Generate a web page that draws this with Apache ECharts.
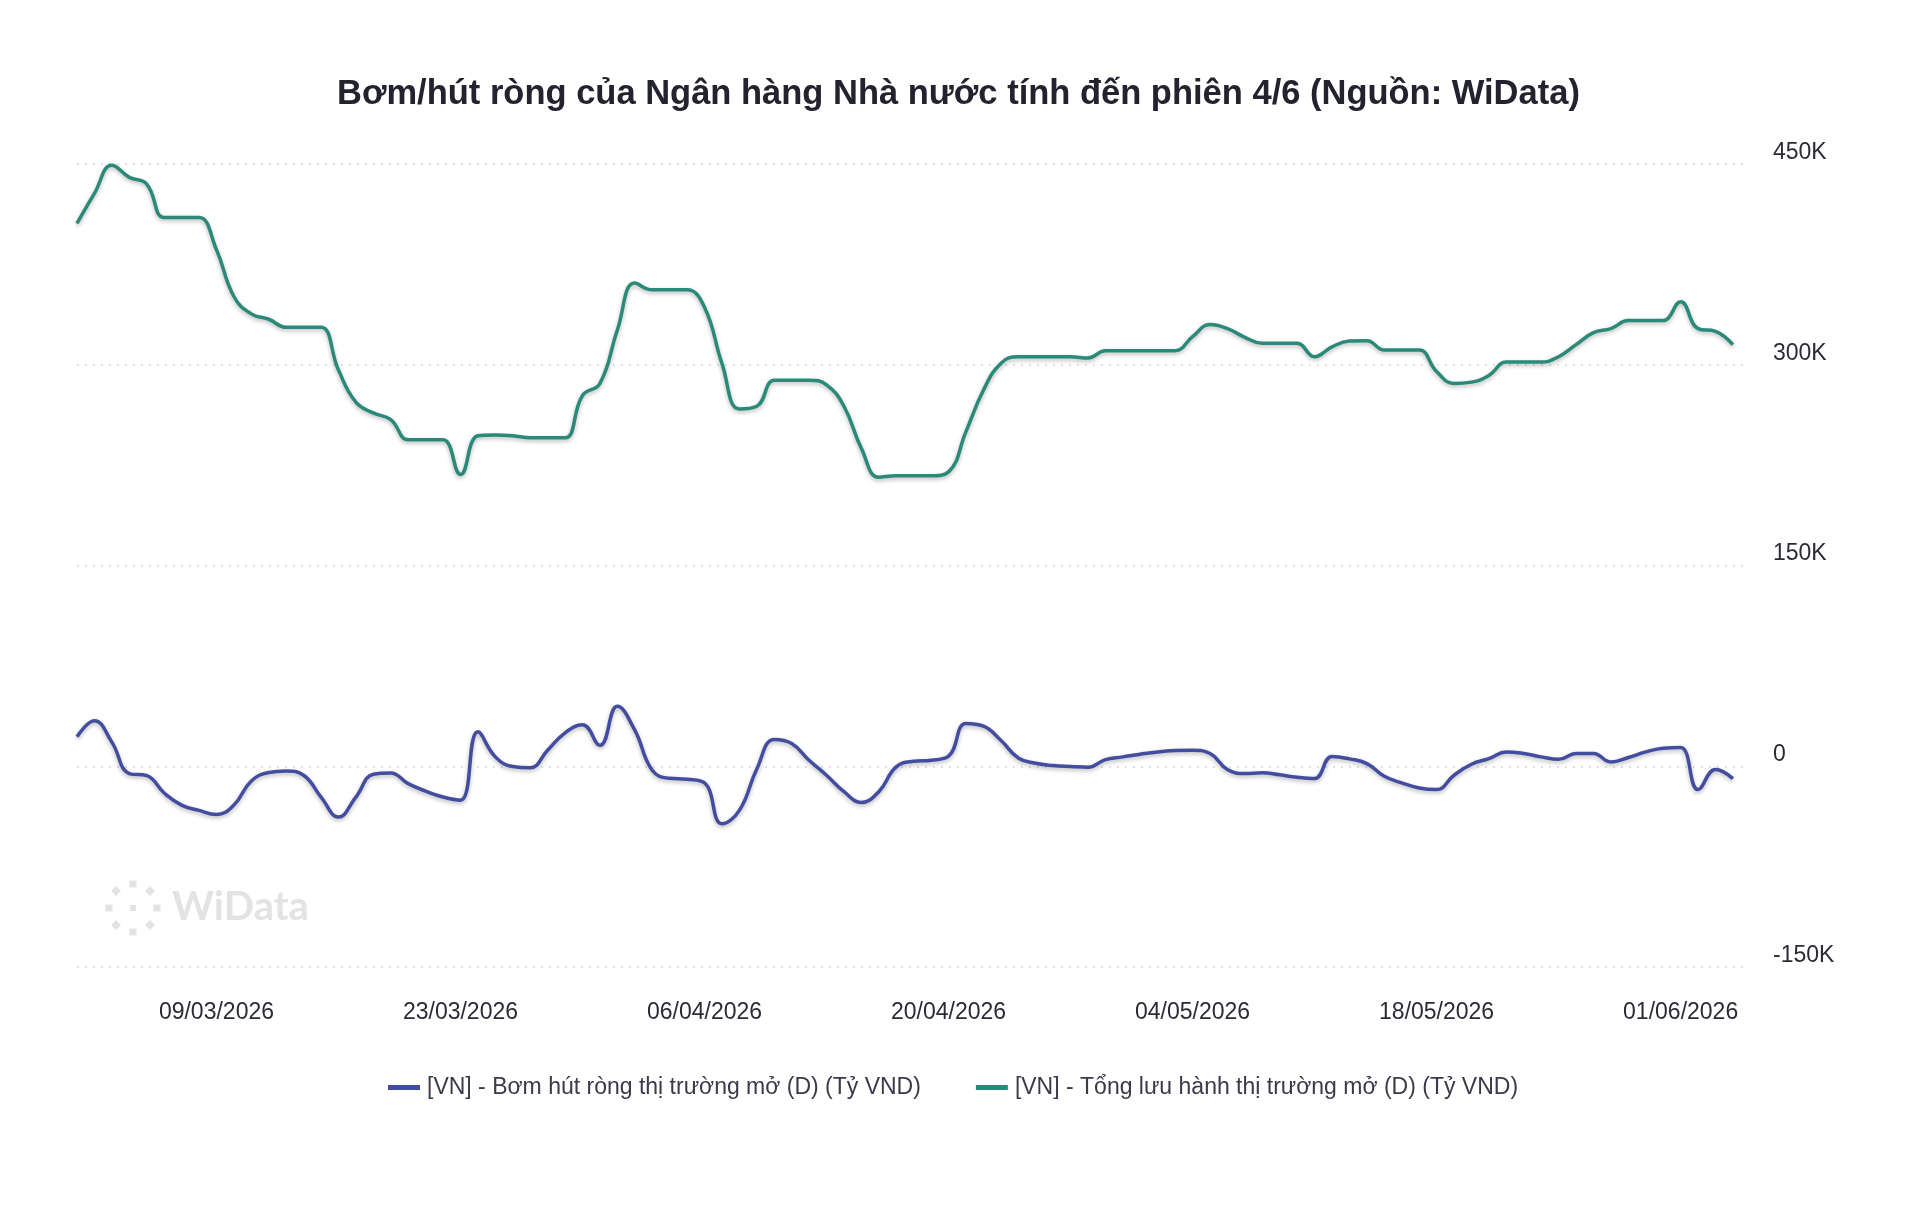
<!DOCTYPE html>
<html>
<head>
<meta charset="utf-8">
<script src="https://cdn.jsdelivr.net/npm/echarts@6/dist/echarts.min.js"></script>
<style>
  html, body { margin: 0; padding: 0; background: #ffffff; }
  #chart { width: 1920px; height: 1227px; }
</style>
</head>
<body>
<div id="chart"></div>
<script>
// ---- Data (Tỷ VND) ----
const dates = [
  '2026-03-01','2026-03-02','2026-03-03','2026-03-04','2026-03-05','2026-03-06','2026-03-07','2026-03-08',
  '2026-03-09','2026-03-10','2026-03-11','2026-03-12','2026-03-13','2026-03-14','2026-03-15',
  '2026-03-16','2026-03-17','2026-03-18','2026-03-19','2026-03-20','2026-03-21','2026-03-22',
  '2026-03-23','2026-03-24','2026-03-25','2026-03-26','2026-03-27','2026-03-28','2026-03-29',
  '2026-03-30','2026-03-31','2026-04-01','2026-04-02','2026-04-03','2026-04-04','2026-04-05',
  '2026-04-06','2026-04-07','2026-04-08','2026-04-09','2026-04-10','2026-04-11','2026-04-12',
  '2026-04-13','2026-04-14','2026-04-15','2026-04-16','2026-04-17','2026-04-18','2026-04-19',
  '2026-04-20','2026-04-21','2026-04-22','2026-04-23','2026-04-24','2026-04-25','2026-04-26',
  '2026-04-27','2026-04-28','2026-04-29','2026-04-30','2026-05-01','2026-05-02','2026-05-03',
  '2026-05-04','2026-05-05','2026-05-06','2026-05-07','2026-05-08','2026-05-09','2026-05-10',
  '2026-05-11','2026-05-12','2026-05-13','2026-05-14','2026-05-15','2026-05-16','2026-05-17',
  '2026-05-18','2026-05-19','2026-05-20','2026-05-21','2026-05-22','2026-05-23','2026-05-24',
  '2026-05-25','2026-05-26','2026-05-27','2026-05-28','2026-05-29','2026-05-30','2026-05-31',
  '2026-06-01','2026-06-02','2026-06-03','2026-06-04'
];

// [VN] - Bơm hút ròng thị trường mở (D)
const netInjection = [
  22000, 34000, 18000, -5500, -7000, -20000, -29000, -33000,
  -36000, -29000, -11000, -4700, -3500, -6700, -23000,
  -38000, -23000, -6000, -5000, -13000, -18600, -23000,
  -25400, 25700, 7000, -200, -1200, 12000, 25000,
  31000, 15600, 44800, 27000, -3000, -9000, -9700,
  -12400, -43000, -33000, -2000, 20000, 17000, 4500,
  -6700, -19000, -27000, -19000, -500, 3700, 4500,
  7500, 32000, 30000, 19400, 6200, 2200, 500,
  -200, -700, 5000, 7000, 9000, 10700, 11700,
  12000, 9500, -2500, -5500, -4800, -6400, -8200,
  -9200, 7300, 5500, 2000, -7500, -12400, -16200,
  -17400, -6700, 1500, 5700, 10700, 9500, 7000,
  5200, 9500, 9500, 3200, 6500, 10700, 13500,
  14000, -17400, -2500, -9200
];

// [VN] - Tổng lưu hành thị trường mở (D)
const outstanding = [
  405600, 428000, 449000, 440000, 435000, 410000, 410000, 410000,
  386000, 351000, 338000, 334000, 328000, 328000, 328000,
  296000, 272000, 264000, 259000, 244000, 244000, 244000,
  218000, 247000, 247600, 247000, 245400, 245400, 245400,
  277000, 286000, 326000, 361000, 356000, 356000, 356000,
  343000, 301000, 267000, 269000, 288500, 288500, 288500,
  285000, 269000, 237500, 216000, 217000, 217000, 217000,
  220000, 250000, 281000, 301000, 306000, 306000, 306000,
  306000, 305000, 310500, 310500, 310500, 310500, 310500,
  321000, 330000, 327000, 320500, 316000, 316000, 316000,
  306000, 313400, 317700, 318000, 311000, 311000, 311000,
  295000, 286000, 287000, 292000, 302000, 302000, 302000,
  306000, 315000, 324000, 327000, 333000, 333000, 333000,
  347000, 327000, 325000, 315000
];

const xLabelDates = ['2026-03-09','2026-03-23','2026-04-06','2026-04-20','2026-05-04','2026-05-18','2026-06-01'];
const yTicks = [-150000, 0, 150000, 300000, 450000];

const seriesNames = [
  '[VN] - Bơm hút ròng thị trường mở (D) (Tỷ VND)',
  '[VN] - Tổng lưu hành thị trường mở (D) (Tỷ VND)'
];
const colors = ['#434da0', '#2b8979'];

// ---- helpers ----
function ts(s) { const p = s.split('-').map(Number); return Date.UTC(p[0], p[1] - 1, p[2]); }
function pad(n) { return (n < 10 ? '0' : '') + n; }
const DAY = 86400000;
const t0 = ts(dates[0]);
function dayIndex(s) { return Math.round((ts(s) - t0) / DAY); }
function fmtDay(v) {
  const d = new Date(t0 + Math.round(v) * DAY);
  return pad(d.getUTCDate()) + '/' + pad(d.getUTCMonth() + 1) + '/' + d.getUTCFullYear();
}

const xMax = dayIndex(dates[dates.length - 1]) + 0.75;

const chart = echarts.init(document.getElementById('chart'), null, { renderer: 'canvas' });
const font = '"Liberation Sans", Arial, sans-serif';

const lineShadow = { shadowColor: 'rgba(0,0,0,0.28)', shadowBlur: 4, shadowOffsetY: 2 };

// watermark logo dots
const logoCx = 133, logoCy = 908, logoR = 24;
const logoDots = [];
for (let k = 0; k < 8; k++) {
  const a = k * Math.PI / 4;
  const diamond = k % 2 === 1;
  logoDots.push({
    type: 'rect',
    x: logoCx + logoR * Math.cos(a), y: logoCy + logoR * Math.sin(a),
    rotation: diamond ? Math.PI / 4 : 0,
    shape: { x: -3.5, y: -3.5, width: 7, height: 7 },
    style: { fill: '#e3e3e3' }, silent: true, z: 0
  });
}
logoDots.push({ type: 'rect', x: logoCx, y: logoCy, shape: { x: -3, y: -3, width: 6, height: 6 }, style: { fill: '#e3e3e3' }, silent: true, z: 0 });

chart.setOption({
  backgroundColor: '#ffffff',
  animation: false,
  title: {
    text: 'Bơm/hút ròng của Ngân hàng Nhà nước tính đến phiên 4/6 (Nguồn: WiData)',
    left: 332,
    top: 72,
    textStyle: { fontFamily: font, fontSize: 34.5, fontWeight: 'bold', color: '#23232f' }
  },
  legend: {
    bottom: 123,
    left: 383,
    itemGap: 55,
    itemWidth: 32,
    itemHeight: 5,
    icon: 'rect',
    textStyle: { fontFamily: font, fontSize: 23, color: '#3a3a4a', padding: [0, 0, 0, 2] },
    data: seriesNames
  },
  grid: { left: 77, right: 174, top: 164, bottom: 260, containLabel: false },
  xAxis: {
    type: 'value',
    min: 0,
    max: xMax,
    axisLine: { show: false },
    axisTick: { show: false },
    splitLine: { show: false },
    axisLabel: {
      customValues: xLabelDates.map(dayIndex),
      formatter: function (v) { return fmtDay(v); },
      fontFamily: font, fontSize: 23, color: '#2b2b36', margin: 34,
      showMinLabel: true, showMaxLabel: true, hideOverlap: false
    }
  },
  yAxis: {
    type: 'value',
    position: 'right',
    min: yTicks[0],
    max: yTicks[yTicks.length - 1],
    interval: 150000,
    axisLine: { show: false },
    axisTick: { show: false },
    axisLabel: {
      formatter: function (v) { return v === 0 ? '0' : (v / 1000) + 'K'; },
      fontFamily: font, fontSize: 23, color: '#2b2b36', margin: 27,
      verticalAlign: 'bottom'
    },
    splitLine: { show: true, lineStyle: { type: [2, 6], color: '#d6d6d6', width: 1.5 } }
  },
  graphic: [
    {
      type: 'text', left: 172, top: 887, silent: true, z: 0,
      style: { text: 'WiData', fill: '#e3e3e3', font: 'bold 40px "Lato", "Liberation Sans", sans-serif' }
    }
  ].concat(logoDots),
  series: [
    {
      name: seriesNames[0], type: 'line', smooth: 0.45, showSymbol: false,
      data: dates.map((d, i) => [dayIndex(d), netInjection[i]]),
      color: colors[0],
      lineStyle: Object.assign({ width: 3.5, color: colors[0] }, lineShadow), z: 3
    },
    {
      name: seriesNames[1], type: 'line', smooth: 0.45, showSymbol: false,
      data: dates.map((d, i) => [dayIndex(d), outstanding[i]]),
      color: colors[1],
      lineStyle: Object.assign({ width: 3.5, color: colors[1] }, lineShadow), z: 3
    }
  ]
});
</script>
</body>
</html>
